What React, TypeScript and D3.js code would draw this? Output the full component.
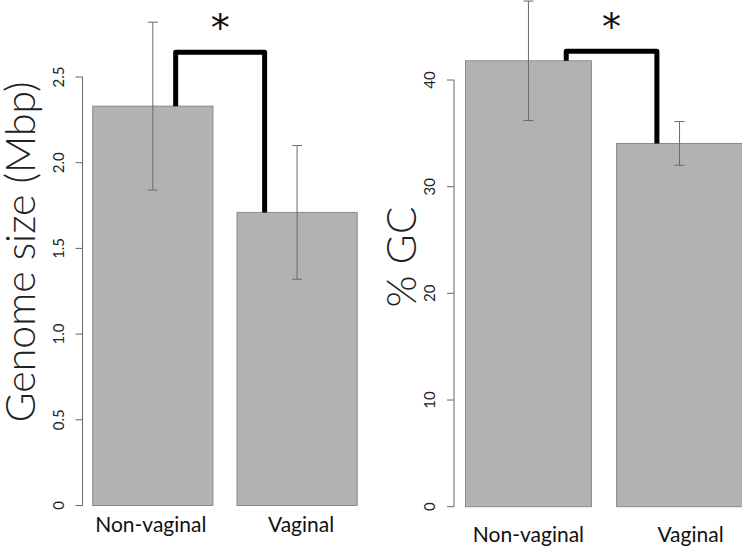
import React from "react";
import * as d3 from "d3";

// ---- data ----
const categories = ["Non-vaginal", "Vaginal"];
const genomeMeans = [2.33, 1.71];
const genomeErr = [0.49, 0.39];
const genomeTicks = [0, 0.5, 1.0, 1.5, 2.0, 2.5];
const genomeTickLabels = ["0", "0.5", "1.0", "1.5", "2.0", "2.5"];
const gcMeans = [41.8, 34.05];
const gcErr = [5.6, 2.05];
const gcTicks = [0, 10, 20, 30, 40];
const gcTickLabels = ["0", "10", "20", "30", "40"];
const bracketHeights = [2.644, 42.7];
const sigLabel = "*";
const yTitles = ["Genome size (Mbp)", "% GC"];

const W = 742;
const H = 546;
const FONT = "Lato, 'Open Sans', 'DejaVu Sans', sans-serif";

type PanelLayout = {
  x0: number; x1: number; yBottom: number; yTop: number; domainMax: number;
  axisX: number; labelY: number; labelDx: number[]; titleX: number; titleY: number; titleSize: number;
  bracketFrac: [number, number]; starY: number; starDx: number;
};

const layouts: PanelLayout[] = [
  { x0: 92.7, x1: 357.2, yBottom: 505.5, yTop: 77, domainMax: 2.5, axisX: 82.5,
    labelY: 532, labelDx: [-2, 4], titleX: 35, titleY: 252, titleSize: 41,
    bracketFrac: [0.69, 0.23], starY: 41, starDx: 0 },
  { x0: 465.5, x1: 742.5, yBottom: 506.7, yTop: 80, domainMax: 40, axisX: 454,
    labelY: 541.5, labelDx: [0, 11], titleX: 416, titleY: 257, titleSize: 41,
    bracketFrac: [0.8, 0.32], starY: 40, starDx: 0 },
];

const panels = [
  { means: genomeMeans, err: genomeErr, ticks: genomeTicks, tickLabels: genomeTickLabels, bracket: bracketHeights[0], title: yTitles[0] },
  { means: gcMeans, err: gcErr, ticks: gcTicks, tickLabels: gcTickLabels, bracket: bracketHeights[1], title: yTitles[1] },
];

function Panel({ p, L }: { p: typeof panels[0]; L: PanelLayout }) {
  const x = d3.scaleBand<string>().domain(categories).range([L.x0, L.x1]).paddingInner(0.2 / 1.2).paddingOuter(0);
  const y = d3.scaleLinear().domain([0, L.domainMax]).range([L.yBottom, L.yTop]);
  const bw = x.bandwidth();
  const bx1 = (x(categories[0]) as number) + L.bracketFrac[0] * bw;
  const bx2 = (x(categories[1]) as number) + L.bracketFrac[1] * bw;
  const bracketPath = d3.path();
  bracketPath.moveTo(bx1, y(p.means[0]));
  bracketPath.lineTo(bx1, y(p.bracket));
  bracketPath.lineTo(bx2, y(p.bracket));
  bracketPath.lineTo(bx2, y(p.means[1]));
  const capW = 5;
  return (
    <g>
      {/* y axis */}
      <line x1={L.axisX} x2={L.axisX} y1={y(0)} y2={y(L.domainMax)} stroke="#666" strokeWidth={1} />
      {p.ticks.map((t, i) => (
        <g key={i}>
          <line x1={L.axisX - 7} x2={L.axisX} y1={y(t)} y2={y(t)} stroke="#666" strokeWidth={1} />
          <text
            transform={`translate(${L.axisX - 25},${y(t)}) rotate(-90)`}
            textAnchor="middle" dominantBaseline="central"
            fontFamily={FONT} fontSize={15} fill="#222"
          >{p.tickLabels[i]}</text>
        </g>
      ))}
      {/* bars */}
      {categories.map((c, i) => (
        <rect key={c} x={x(c)} y={y(p.means[i])} width={bw} height={y(0) - y(p.means[i])}
          fill="#b2b2b2" stroke="#8a8a8a" strokeWidth={1} />
      ))}
      {/* error bars */}
      {categories.map((c, i) => {
        const cx = (x(c) as number) + bw / 2;
        const top = y(p.means[i] + p.err[i]);
        const bot = y(p.means[i] - p.err[i]);
        return (
          <g key={c} stroke="#6a6a6a" strokeWidth={1}>
            <line x1={cx} x2={cx} y1={top} y2={bot} />
            <line x1={cx - capW} x2={cx + capW} y1={top} y2={top} />
            <line x1={cx - capW} x2={cx + capW} y1={bot} y2={bot} />
          </g>
        );
      })}
      {/* bracket */}
      <path d={bracketPath.toString()} fill="none" stroke="#000" strokeWidth={5} strokeLinejoin="round" />
      <text x={(bx1 + bx2) / 2 + L.starDx} y={L.starY} textAnchor="middle"
        fontFamily="'DejaVu Sans', sans-serif" fontSize={38} fill="#111">{sigLabel}</text>
      {/* category labels */}
      {categories.map((c, i) => (
        <text key={c} x={(x(c) as number) + bw / 2 + L.labelDx[i]} y={L.labelY} textAnchor="middle"
          fontFamily={FONT} fontSize={21} fill="#111">{c}</text>
      ))}
      {/* y title */}
      <text transform={`translate(${L.titleX},${L.titleY}) rotate(-90)`} textAnchor="middle"
        fontFamily={FONT} fontWeight={300} fontSize={L.titleSize} fill="#222">{p.title}</text>
    </g>
  );
}

export default function App() {
  return (
    <svg width={W} height={H} viewBox={`0 0 ${W} ${H}`}
      style={{ position: "absolute", left: 0, top: 0, display: "block", background: "#fff" }}>
      <rect x={0} y={0} width={W} height={H} fill="#fff" />
      {panels.map((p, i) => (
        <Panel key={i} p={p} L={layouts[i]} />
      ))}
    </svg>
  );
}
